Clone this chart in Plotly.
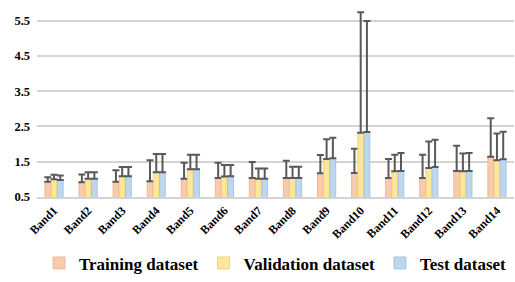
import plotly.graph_objects as go

bands = ["Band1", "Band2", "Band3", "Band4", "Band5", "Band6", "Band7",
         "Band8", "Band9", "Band10", "Band11", "Band12", "Band13", "Band14"]

train_mean = [0.93, 0.92, 0.93, 0.95, 1.02, 1.04, 1.04, 1.04, 1.17, 1.18, 1.04, 1.04, 1.24, 1.64]
train_top  = [1.06, 1.14, 1.26, 1.54, 1.47, 1.47, 1.49, 1.53, 1.69, 1.87, 1.58, 1.70, 1.95, 2.73]
val_mean   = [1.00, 1.02, 1.09, 1.20, 1.29, 1.08, 1.02, 1.04, 1.58, 2.32, 1.23, 1.32, 1.23, 1.54]
val_top    = [1.13, 1.20, 1.35, 1.72, 1.70, 1.41, 1.31, 1.36, 2.14, 5.74, 1.70, 2.07, 1.73, 2.30]
test_mean  = [0.98, 1.02, 1.09, 1.20, 1.29, 1.09, 1.02, 1.04, 1.60, 2.34, 1.24, 1.35, 1.24, 1.57]
test_top   = [1.11, 1.20, 1.35, 1.72, 1.70, 1.41, 1.31, 1.36, 2.18, 5.49, 1.75, 2.12, 1.75, 2.35]

y_ticks = [0.5, 1.5, 2.5, 3.5, 4.5, 5.5]

series = [
    ("Training dataset", train_mean, train_top, "#F8CBAD", "#E9B08E"),
    ("Validation dataset", val_mean, val_top, "#FFE699", "#E8CC7A"),
    ("Test dataset", test_mean, test_top, "#BDD7EE", "#9FBEDB"),
]

fig = go.Figure()
for name, mean, top, color, edge in series:
    fig.add_trace(go.Bar(
        name=name, x=bands, y=mean,
        marker=dict(color=color, line=dict(color=edge, width=0.8)),
        error_y=dict(type="data", symmetric=False,
                     array=[t - m for t, m in zip(top, mean)],
                     arrayminus=[0] * len(mean),
                     color="#595959", thickness=2, width=3.5),
    ))

font_family = "Liberation Serif, Times New Roman, serif"
fig.update_layout(
    width=515, height=282,
    margin=dict(l=37, r=1, t=3, b=85),
    paper_bgcolor="white", plot_bgcolor="white",
    barmode="group", bargap=0.45, bargroupgap=0.08,
    showlegend=True,
    legend=dict(orientation="h", x=0.5, xanchor="center", y=-0.435, yanchor="bottom",
                font=dict(family=font_family, size=17, color="black", weight="bold"),
                itemwidth=30, tracegroupgap=0),
    font=dict(family=font_family, color="black"),
)
fig.update_yaxes(range=[0.5, 6.0], tickvals=y_ticks, ticktext=[f"<b>{v}</b>" for v in y_ticks],
                 tickfont=dict(size=12.5, family=font_family), showgrid=True,
                 gridcolor="#D4D4D4", gridwidth=1.5, zeroline=False, showline=False,
                 ticks="", ticklabelstandoff=6)
fig.update_xaxes(range=[-0.5, 13.5], tickvals=bands, ticktext=[f"<b>{b}</b>" for b in bands],
                 tickangle=-45, tickfont=dict(size=12, family=font_family), showline=True,
                 linecolor="#D4D4D4", linewidth=1.5, ticks="", automargin=False)

fig.write_html("out.html", config={"displayModeBar": False},
               post_script="document.body.style.margin='0';")
